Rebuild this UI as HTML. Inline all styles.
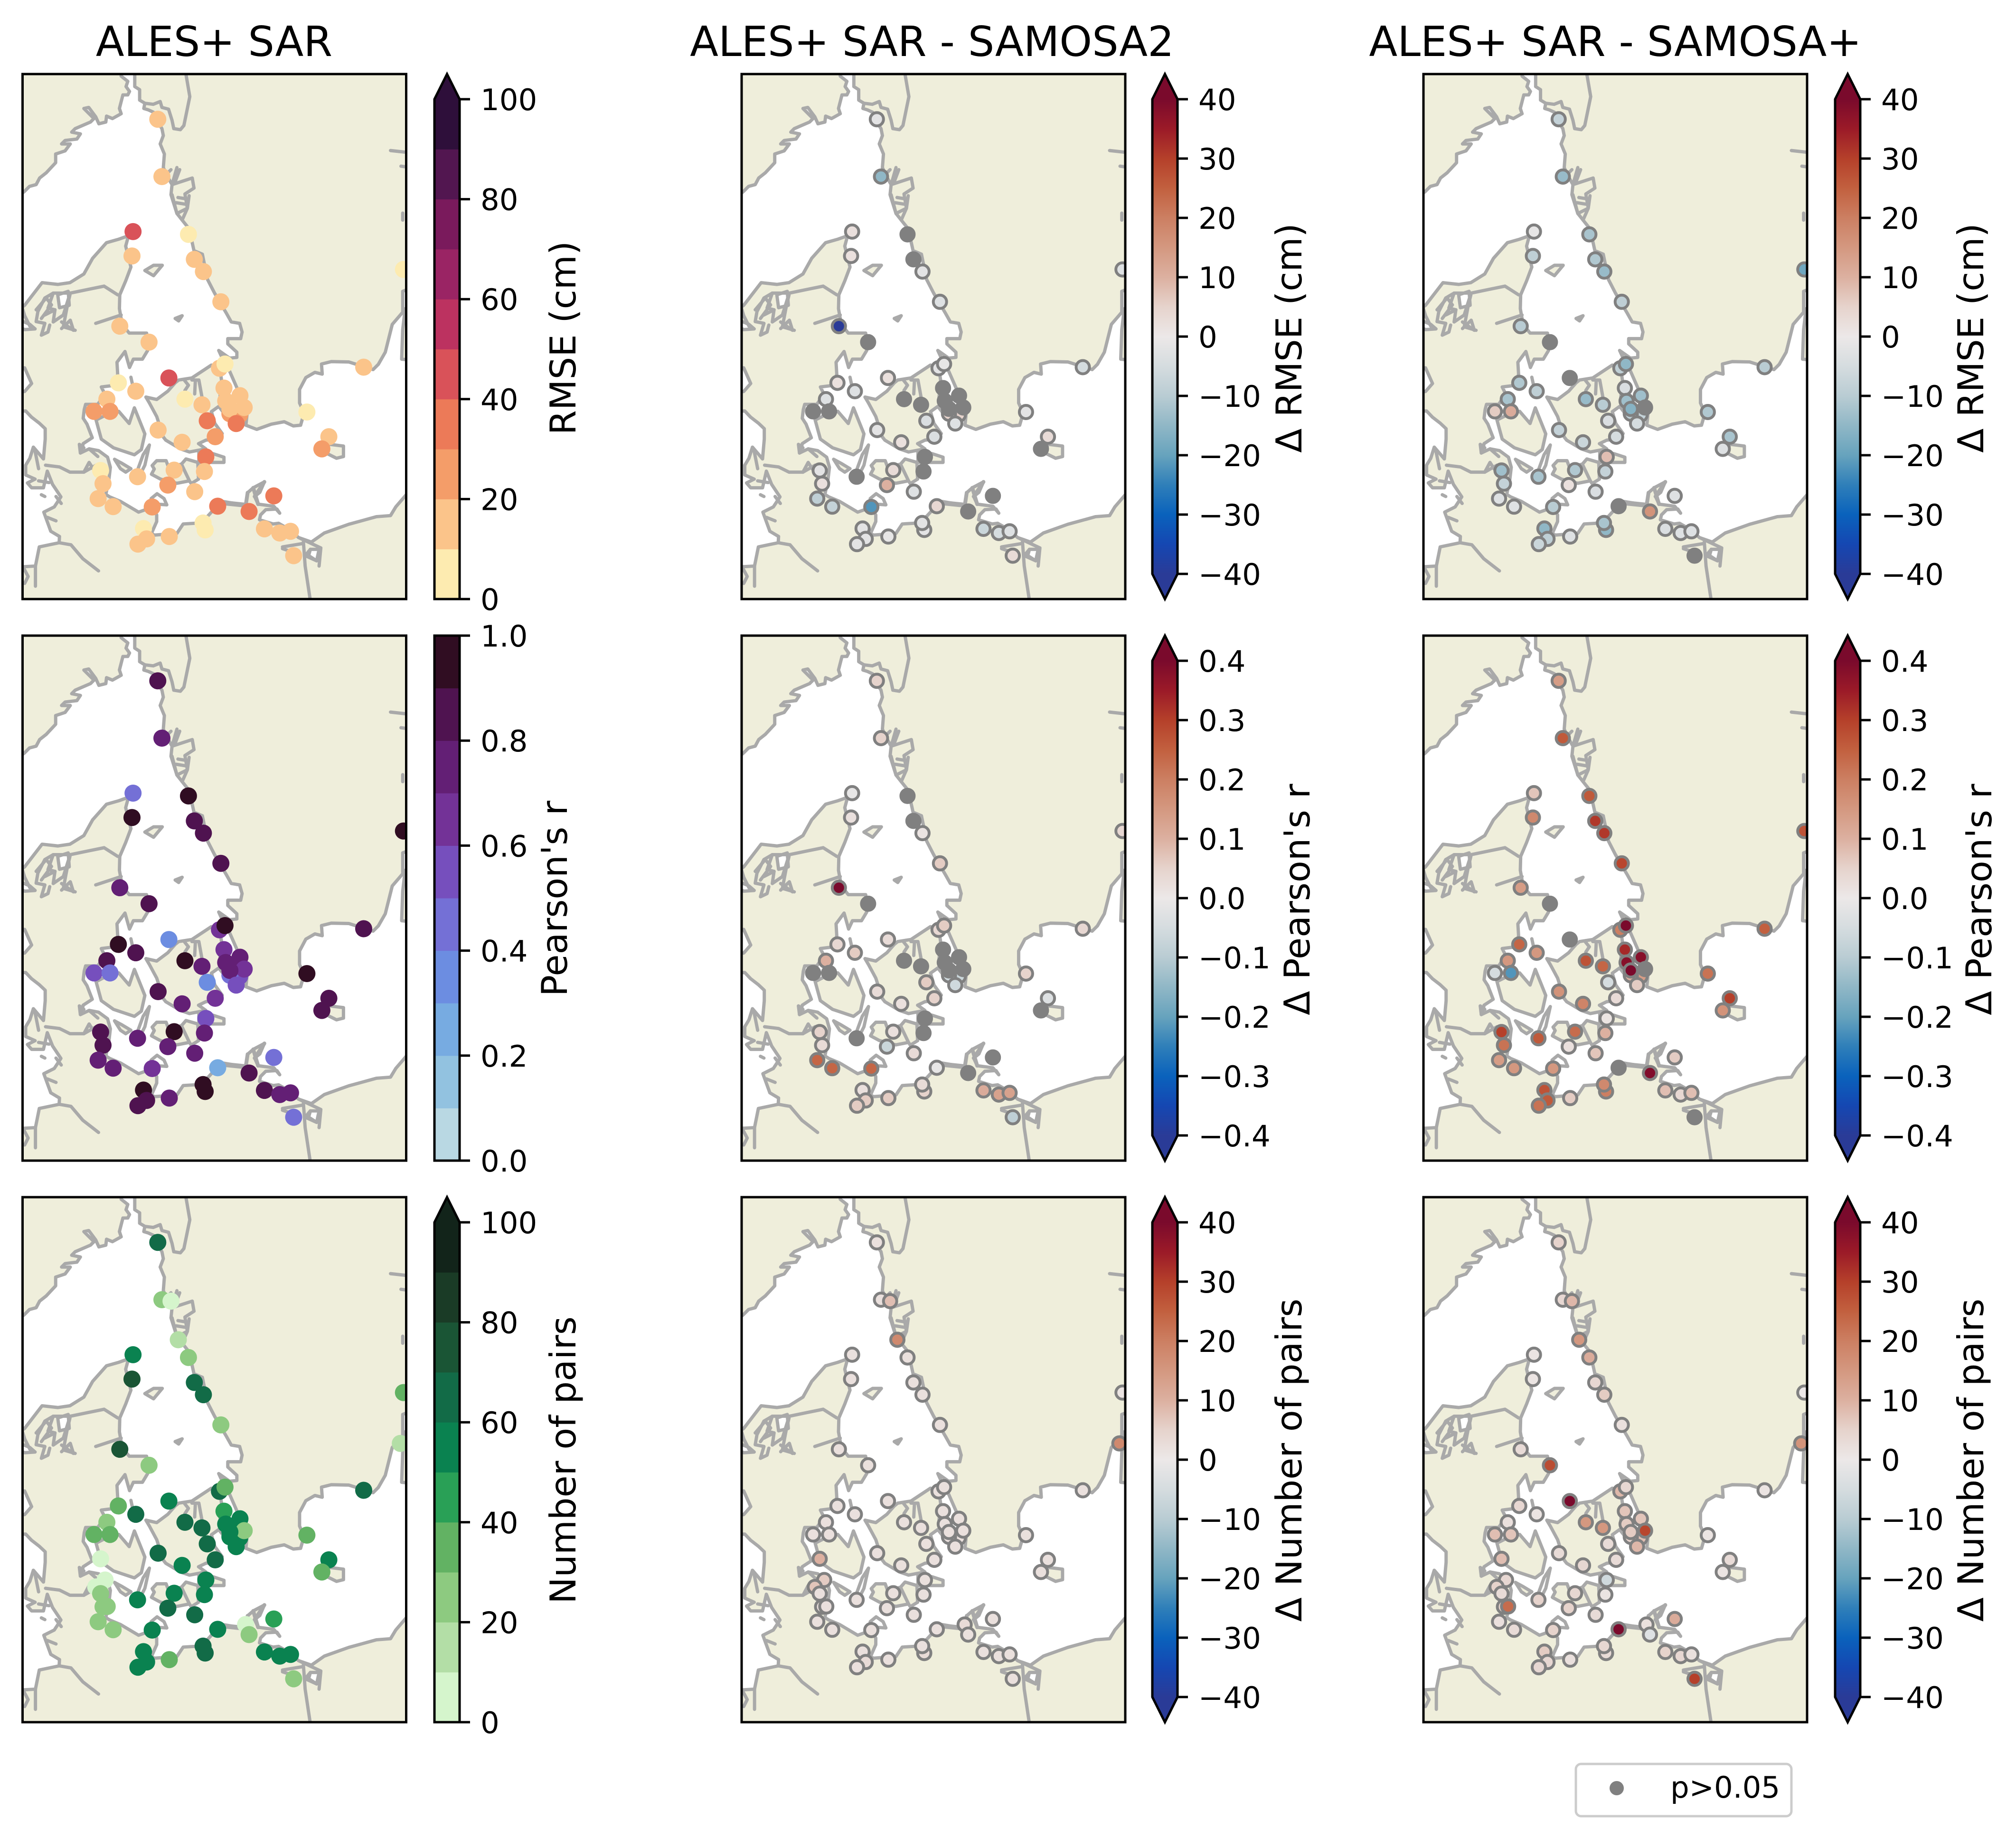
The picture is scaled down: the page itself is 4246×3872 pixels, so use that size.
<!DOCTYPE html>
<html lang="en">
<head>
<meta charset="utf-8">
<title>ALES+ SAR coastal altimetry comparison maps</title>
<style>
html,body{margin:0;padding:0;background:#fff;}
svg{display:block;font-family:"DejaVu Sans","Liberation Sans",sans-serif;}
.title{font-size:87.5px;text-anchor:middle;fill:#000;}
.cb-label{font-size:75px;text-anchor:middle;fill:#000;}
.tick-label{font-size:62.5px;fill:#000;}
</style>
</head>
<body>
<svg id="figure" xmlns="http://www.w3.org/2000/svg" width="4246" height="3872" viewBox="0 0 4246 3872">
<defs>
<clipPath id="panel-clip"><rect x="0" y="0" width="808" height="1106"/></clipPath>
<g id="basemap" transform="scale(0.73388,0.73245) translate(-24,-25)">
<rect x="0" y="0" width="1200" height="1600" fill="#efeedb"/>
<g fill="#ffffff" stroke="#a9a9a9" stroke-width="9.5" stroke-linejoin="round" stroke-linecap="round">
<path d="M307,10 L346,10 346,61 360,70 360,100 375,109 372,124 385,128 400,135 410,160 424,182 428,202 419,226 431,255 428,294 440,320 453,343 450,372 467,426 482,445 502,470 516,533 540,543 555,616 575,655 609,713 623,738 647,742 654,767 650,786 613,786 613,801 639,825 639,840 618,842 587,820 605,859 618,879 639,927 670,986 665,1035 696,1047 738,1032 775,1025 801,1037 822,1035 832,1000 819,971 819,932 837,898 863,883 884,888 882,859 910,852 960,853 1030,875 1045,860 1065,825 1085,745 1115,710 1115,650 1140,640 1140,1225 1125,1235 1095,1270 1080,1295 1040,1298 960,1320 890,1345 853,1371 816,1358 790,1335 759,1317 743,1319 704,1307 707,1293 722,1278 754,1276 762,1288 745,1268 700,1262 690,1240 705,1228 718,1198 686,1215 670,1229 665,1265 645,1262 597,1254 575,1275 555,1297 519,1317 485,1319 467,1346 402,1351 394,1346 409,1312 409,1293 396,1271 357,1285 305,1254 274,1241 263,1234 272,1190 276,1156 268,1127 242,1108 215,1103 190,1115 195,1103 198,1088 224,1071 209,1032 198,1015 201,990 205,975 240,975 260,945 250,925 290,920 297,888 295,854 318,823 331,869 342,845 368,845 383,820 380,770 330,770 310,745 302,700 303,660 320,620 335,580 320,520 328,490 300,500 265,510 225,555 200,600 160,625 125,630 80,625 30,690 10,705 10,378 29,363 44,348 63,343 73,324 92,309 119,280 119,255 146,246 161,226 136,226 146,216 180,212 190,197 165,192 175,182 219,163 229,153 200,124 214,121 234,148 243,168 263,163 265,146 282,153 307,139 302,124 312,85 326,85 331,75 321,61 326,46 307,31 Z"/>
<path d="M10,995 33,994 50,1012 72,1029 89,1045 89,1075 84,1132 55,1098 45,1130 33,1150 33,1178 60,1190 38,1201 50,1215 84,1215 95,1167 110,1205 134,1241 115,1270 85,1285 105,1340 130,1355 129,1373 72,1385 61,1440 27,1442 10,1450 Z"/>
<path d="M10,870 30,870 50,915 30,938 10,938 Z"/>
<path d="M125,660 155,650 158,690 130,697 Z"/>
<path d="M10,730 45,745 60,758 30,760 10,750 Z"/>
<path d="M850,1392 875,1392 868,1425 845,1410 Z"/>
</g>
<g fill="#efeedb" stroke="#a9a9a9" stroke-width="9.5" stroke-linejoin="round" stroke-linecap="round">
<path d="M472,905 510,899 566,862 590,870 595,905 590,960 600,990 610,1010 587,981 566,996 576,1030 597,1059 577,1075 550,1078 529,1088 550,1103 503,1112 477,1103 435,1078 428,1069 409,1010 388,971 378,954 409,961 441,937 462,913 Z"/>
<path d="M235,1020 250,1075 285,1100 345,1120 365,1105 375,1060 345,985 330,1030 300,995 265,1005 Z"/>
<path d="M396,1151 409,1137 436,1137 443,1156 480,1147 503,1195 467,1202 420,1190 394,1176 402,1161 Z"/>
<path d="M480,1147 493,1132 527,1142 529,1190 508,1203 503,1195 Z"/>
<path d="M530,1108 571,1117 602,1127 602,1142 566,1142 530,1142 Z"/>
<path d="M375,590 400,575 425,575 400,605 Z"/>
<path d="M905,1090 945,1095 945,1125 925,1130 885,1110 Z"/>
<path d="M1115,760 1112,845 1140,848 1140,700 1122,700 Z"/>
<path d="M288,1133 310,1145 335,1160 320,1170 305,1160 Z"/>
</g>
<g fill="none" stroke="#a9a9a9" stroke-width="9.5" stroke-linejoin="round" stroke-linecap="round">
<path d="M375,109 399,112 419,104 424,121 443,126 453,158 458,182 477,185 487,173 497,124 504,90 492,20"/>
<path d="M453,343 467,294 M460,340 475,300 M440,310 450,300 M453,343 511,324 516,353 490,370 497,411 482,445 M453,372 467,426 497,411 502,375 M470,380 500,385 M465,395 495,400"/>
<path d="M1080,245 1125,250 M1110,290 1125,292 M1115,425 1115,445"/>
<path d="M161,655 209,645 258,635 297,660 M161,655 112,655 88,669 68,708 63,737 88,742 78,776 97,767 102,747 M151,699 141,752 175,762 M117,703 88,718 M234,742 307,718 M160,660 151,699 M24,700 30,720 45,750"/>
<path d="M112,655 97,698 117,703 112,738 141,718 156,670 M63,703 92,669 107,689 78,728 M136,738 170,762 161,733 136,757"/>
<path d="M462,728 482,720 472,735 Z" fill="#a9a9a9"/>
<path d="M335,897 340,920 M388,1092 375,1150 365,1170 350,1175 370,1120 388,1092"/>
<path d="M488,905 500,920 490,935 M510,905 530,905 540,960 M520,905 518,945"/>
<path d="M393,1246 410,1232 430,1246 438,1264 410,1262"/>
<path d="M90,1150 130,1155 160,1170 200,1170 215,1142 227,1161"/>
<path d="M129,1373 163,1379 197,1419 242,1454"/>
<path d="M61,1440 61,1498 M24,1440 40,1470 30,1490 M70,1195 100,1200 M78,1235 88,1240 M120,1240 135,1260 M95,1300 120,1310 M60,1110 70,1160"/>
<path d="M830,1370 835,1440 850,1540 M770,1385 830,1375 M770,1390 800,1400 M816,1358 880,1388 875,1440 M850,1392 835,1410 868,1425"/>
<path d="M190,1115 187,1090 200,1100 M215,1103 240,1125 M235,1150 200,1170"/>
<path d="M597,1258 665,1265" stroke-width="14"/>
<path d="M670,1229 665,1262 M686,1215 700,1262 M690,1240 718,1198" stroke-width="11"/>
</g>
</g>
</defs>
<rect x="0" y="0" width="4246" height="3872" fill="#ffffff"/>

<text class="title" x="451" y="118">ALES+ SAR</text>
<text class="title" x="1963" y="118">ALES+ SAR - SAMOSA2</text>
<text class="title" x="3402" y="118">ALES+ SAR - SAMOSA+</text>

<text class="cb-label" transform="translate(1212,712) rotate(-90)">RMSE (cm)</text>
<text class="cb-label" transform="translate(1194,1893) rotate(-90)">Pearson's r</text>
<text class="cb-label" transform="translate(1212,3076) rotate(-90)">Number of pairs</text>
<text class="cb-label" transform="translate(2741,712) rotate(-90)">Δ RMSE (cm)</text>
<text class="cb-label" transform="translate(2758,1895) rotate(-90)">Δ Pearson's r</text>
<text class="cb-label" transform="translate(2741,3076) rotate(-90)">Δ Number of pairs</text>
<text class="cb-label" transform="translate(4177,712) rotate(-90)">Δ RMSE (cm)</text>
<text class="cb-label" transform="translate(4194,1895) rotate(-90)">Δ Pearson's r</text>
<text class="cb-label" transform="translate(4177,3076) rotate(-90)">Δ Number of pairs</text>

<g>
<rect x="3319" y="3716" width="454" height="110" rx="11" ry="11" fill="#ffffff" stroke="#cccccc" stroke-width="5"/>
<circle cx="3405" cy="3767" r="15" fill="#808080"/>
<text class="tick-label" x="3518" y="3787">p&gt;0.05</text>
</g>
<g id="panels"></g>
</svg>
<script>
const N = null;
const ns = 'ns';

const stationLon = [
11.162,11.253,11.452,11.612,10.62,10.597,11.834,11.963,12.162,12.544,
16.544,16.475,10.33,10.971,12.513,12.635,11.406,15.673,10.299,10.681,
12.612,12.963,10.047,12.65,11.757,12.131,13.055,9.765,10.116,12.742,
12.956,12.742,12.879,12.246,14.429,11.169,12.421,14.91,14.757,9.91,
11.696,10.009,12.215,9.803,9.91,12.185,11.521,10.719,11.383,9.963,
10.055,11.971,9.856,10.185,11.04,12.475,13.085,13.162,13.704,12.154,
12.2,10.849,10.918,10.727,11.414,13.498,13.834,14.07,14.139];
const stationLat = [
59.047,58.345,58.328,57.855,57.672,57.374,57.638,57.332,57.183,56.813,
57.209,56.587,56.515,56.319,56.0,56.051,55.881,56.013,55.821,55.719,
55.757,55.664,55.621,55.6,55.621,55.553,55.519,55.472,55.472,55.502,
55.43,55.443,55.323,55.357,55.464,55.243,55.162,55.162,55.013,55.174,
55.094,54.915,54.915,54.83,54.749,54.736,54.753,54.672,54.57,54.587,
54.591,54.489,54.404,54.306,54.302,54.311,54.37,54.247,54.438,54.106,
54.021,54.038,53.911,53.847,53.94,54.034,53.983,54.004,53.706];

const rmseValues = [
15,15,N,N,45,15,5,15,15,15,
5,N,15,15,15,5,45,15,5,15,
15,15,15,15,5,15,15,25,25,15,
25,25,35,35,5,15,25,15,25,N,
15,N,35,N,5,15,15,15,25,15,
N,15,15,15,25,35,N,35,35,5,
5,5,15,15,15,15,15,15,15];
const pearsonValues = [
.85,.75,N,N,.45,.95,.95,.85,.85,.85,
.95,N,.75,.85,.65,.95,.35,.85,.95,.85,
.65,.75,.85,.75,.95,.75,.65,.55,.45,.75,
.55,.45,.55,.35,.95,.85,.65,.85,.85,N,
.75,N,.55,N,.85,.75,.95,.75,.75,.85,
N,.75,.75,.75,.65,.25,N,.85,.45,.95,
.95,.95,.85,.85,.75,.85,.75,.75,.45];
const pairsValues = [
65,25,5,15,55,75,25,65,65,25,
35,15,75,25,65,35,55,65,35,65,
45,55,25,55,65,65,25,35,35,55,
55,55,55,65,35,65,65,55,35,5,
55,5,55,5,25,55,55,55,65,25,
25,65,25,25,55,55,5,25,45,65,
65,55,55,55,35,55,55,55,25];

const deltaRmseSamosa2 = [
-2,-15,N,N,2,2,ns,ns,-2,-3,
-3,N,-40,ns,-2,-1,2,-5,2,-3,
ns,ns,-3,ns,ns,ns,ns,ns,ns,ns,
5,5,-3,-4,-2,-2,-4,3,ns,N,
2,N,ns,N,-2,ns,3,ns,10,2,
N,-3,-9,-8,-22,4,N,ns,ns,-2,
-2,-2,-2,-2,-1,-7,-5,-3,3];
const deltaRmseSamosaPlus = [
-8,-14,N,N,-1,-9,-12,-11,-14,-9,
-19,N,-10,ns,-9,-15,ns,-10,-11,-9,
-4,-13,-12,-13,-14,-10,ns,6,11,-16,
-8,-9,-5,-4,-11,-8,-5,-12,-3,N,
-7,N,8,N,-13,-8,-11,-12,2,-8,
N,-4,-3,-3,-10,ns,N,16,-3,-12,
-15,-15,-9,-7,-3,-4,-3,-3,ns];
const deltaPearsonSamosa2 = [
.05,.05,N,N,-.01,.02,ns,ns,.01,.06,
.04,N,.4,ns,.04,.06,.03,.04,.04,.06,
ns,ns,.1,ns,ns,ns,ns,ns,ns,ns,
-.07,-.06,-.06,.06,.05,.03,.05,-.03,ns,N,
.02,N,ns,N,.05,ns,.02,ns,-.07,.03,
N,.03,.24,.24,.24,-.01,N,ns,ns,.03,
.05,.02,.06,.06,.06,.11,.13,.13,-.09];
const deltaPearsonSamosaPlus = [
.14,.26,N,N,.07,.18,.26,.31,.31,.29,
.27,N,.14,ns,.2,.4,ns,.25,.24,.15,
.33,.38,.15,.38,.27,.24,ns,-.05,-.22,.4,
.14,.1,.06,-.05,.22,.16,.03,.3,.16,N,
.19,N,.01,N,.3,.1,.23,.26,.02,.22,
N,.07,.14,.15,.15,ns,N,.39,.06,.18,
.2,.27,.26,.22,.06,.08,.04,.08,ns];
const deltaPairsSamosa2 = [
2,2,8,18,2,2,2,2,2,2,
1,18,2,2,2,2,2,2,2,2,
2,2,2,2,2,2,2,2,2,2,
2,2,2,2,2,2,2,2,2,10,
2,6,2,7,2,2,2,2,2,2,
2,2,2,2,2,2,3,2,2,2,
3,2,3,2,2,2,2,2,2];
const deltaPairsSamosaPlus = [
5,4,9,15,1,1,11,4,6,2,
0,16,3,28,9,4,40,1,4,1,
7,7,2,6,15,15,29,8,7,6,
8,5,9,3,1,3,3,3,1,8,
4,4,-6,5,3,1,4,5,5,5,
23,3,2,3,5,40,2,-3,11,4,
3,6,4,4,2,5,4,2,30];

const ticksHundred = [0,20,40,60,80,100];
const ticksUnit = [0,0.2,0.4,0.6,0.8,1.0];
const ticksDelta = [-40,-30,-20,-10,0,10,20,30,40];
const ticksDeltaR = [-0.4,-0.3,-0.2,-0.1,0,0.1,0.2,0.3,0.4];

const matterBands = ['#fdebb0','#fbc48a','#f49d69','#ec7a58','#d95259','#bc3260','#9a2464','#7a1a5c','#521650','#2e0f3a'];
const denseBands = ['#b9d8e3','#92c2e0','#77abe1','#6c8de1','#7470d6','#764fbd','#733297','#631f75','#4f1350','#300d22'];
const algaeBands = ['#d5f5cc','#b3dea6','#8dca80','#62b263','#29a056','#0a8250','#126b47','#1a5535','#1a3b26','#12241a'];
const balanceStops = ['#2a3b97','#1547b2','#0a62bc','#2f7fb9','#67a3bd','#90b7c6','#b9ccd3','#d5dcdf','#ece8e8','#e6d3cc','#dcb0a0','#d49880','#cc7f62','#c2603f','#b5402a','#9b1a28','#7a0a2c'];

const PANEL_W = 808, PANEL_H = 1106, CBAR_W = 53, EXT = 53;
const LON_MIN = 8.2, LON_MAX = 16.604, LAT_MAX = 59.6, LAT_MIN = 53.175;
const colLeft = [47.5, 1562, 2998];
const rowTop = [156, 1339, 2522];
const cbarLeft = [915, 2427, 3865];
const NS_COLOR = '#808080', EDGE_COLOR = '#808080';
const SVGNS = 'http://www.w3.org/2000/svg';
const root = document.getElementById('panels');
const defs = document.querySelector('defs');

function xScale(lon) { return (lon - LON_MIN) / (LON_MAX - LON_MIN) * PANEL_W; }
function yScale(lat) { return (LAT_MAX - lat) / (LAT_MAX - LAT_MIN) * PANEL_H; }
function hexRgb(h) { return [parseInt(h.substr(1,2),16), parseInt(h.substr(3,2),16), parseInt(h.substr(5,2),16)]; }
function balanceColor(t) {
  const p = Math.max(0, Math.min(1, t)) * (balanceStops.length - 1);
  const i = Math.min(Math.floor(p), balanceStops.length - 2);
  const a = hexRgb(balanceStops[i]), b = hexRgb(balanceStops[i + 1]), f = p - i;
  return 'rgb(' + a.map((c, k) => Math.round(c + (b[k] - c) * f)).join(',') + ')';
}
function bandColor(bands, v, vmax) {
  const i = Math.max(0, Math.min(bands.length - 1, Math.floor(v / vmax * bands.length)));
  return bands[i];
}
function mk(tag, attrs, parent) {
  const el = document.createElementNS(SVGNS, tag);
  for (const k in attrs) el.setAttribute(k, attrs[k]);
  if (parent) parent.appendChild(el);
  return el;
}
function fmt(v, digits) { return v.toFixed(digits).replace('-', '\u2212'); }

const gradient = mk('linearGradient', {id:'balance-gradient', x1:'0', y1:'1', x2:'0', y2:'0'}, defs);
balanceStops.forEach((c, i) => {
  mk('stop', {offset: i / (balanceStops.length - 1), 'stop-color': c}, gradient);
});

const drawFirst = [30, 31, 60];
const drawOrder = drawFirst.concat(stationLon.map((_, i) => i).filter(i => drawFirst.indexOf(i) < 0));

function drawMap(name, col, row, values, colorFn, edged) {
  const g = mk('g', {transform: 'translate(' + colLeft[col] + ',' + rowTop[row] + ')'}, root);
  
  
  const clip = mk('g', {'clip-path': 'url(#panel-clip)'}, g);
  const base = mk('use', {href: '#basemap'}, clip);
  
  
  drawOrder.forEach(i => {
    const v = values[i];
    if (v === null || v === undefined) return;
    const isNs = v === 'ns';
    const attrs = {cx: xScale(stationLon[i]).toFixed(1), cy: yScale(stationLat[i]).toFixed(1)};
    if (edged) {
      attrs.r = 14; attrs.fill = isNs ? NS_COLOR : colorFn(v);
      attrs.stroke = EDGE_COLOR; attrs['stroke-width'] = 6;
    } else {
      attrs.r = 18; attrs.fill = colorFn(v);
    }
    const dot = mk('circle', attrs, clip);
    
    
  });
  const frame = mk('rect', {x:0, y:0, width:PANEL_W, height:PANEL_H, fill:'none', stroke:'#000', 'stroke-width':5}, g);
  
  
}

function drawTicks(g, ticks, digits, posFn) {
  ticks.forEach(t => {
    const y = posFn(t);
    const tick = mk('line', {x1:CBAR_W, x2:CBAR_W + 22, y1:y, y2:y, stroke:'#000', 'stroke-width':5}, g);
    
    
    const label = mk('text', {class:'tick-label', x:CBAR_W + 44, y:y + 23}, g);
    
    
    label.textContent = fmt(t, digits);
  });
}

function drawBandBar(name, row, bands, vmax, ticks, digits, extendTop) {
  const top = rowTop[row];
  const g = mk('g', {transform: 'translate(' + cbarLeft[0] + ',' + top + ')'}, root);
  
  
  const y0 = PANEL_H, y1 = extendTop ? EXT : 0;
  const pos = v => y0 + (y1 - y0) * v / vmax;
  bands.forEach((c, i) => {
    const a = pos(vmax * (i + 1) / bands.length), b = pos(vmax * i / bands.length);
    const band = mk('rect', {x:0, y:a, width:CBAR_W, height:b - a + 0.5, fill:c}, g);
    
    
  });
  let outline;
  if (extendTop) {
    const tip = mk('polygon', {points:'0,' + EXT + ' ' + (CBAR_W / 2) + ',0 ' + CBAR_W + ',' + EXT, fill:bands[bands.length - 1]}, g);
    
    
    outline = '0,' + PANEL_H + ' 0,' + EXT + ' ' + (CBAR_W / 2) + ',0 ' + CBAR_W + ',' + EXT + ' ' + CBAR_W + ',' + PANEL_H;
  } else {
    outline = '0,' + PANEL_H + ' 0,0 ' + CBAR_W + ',0 ' + CBAR_W + ',' + PANEL_H;
  }
  const o = mk('polygon', {points:outline, fill:'none', stroke:'#000', 'stroke-width':5}, g);
  
  
  drawTicks(g, ticks, digits, pos);
}

function drawBalanceBar(name, col, row, vmax, ticks, digits) {
  const g = mk('g', {transform: 'translate(' + cbarLeft[col] + ',' + rowTop[row] + ')'}, root);
  
  
  const y0 = PANEL_H - EXT, y1 = EXT;
  const pos = v => y0 + (y1 - y0) * (v + vmax) / (2 * vmax);
  const grad = mk('rect', {x:0, y:EXT, width:CBAR_W, height:PANEL_H - 2 * EXT, fill:'url(#balance-gradient)'}, g);
  
  
  const topTip = mk('polygon', {points:'0,' + EXT + ' ' + (CBAR_W / 2) + ',0 ' + CBAR_W + ',' + EXT, fill:balanceStops[balanceStops.length - 1]}, g);
  
  
  const botTip = mk('polygon', {points:'0,' + (PANEL_H - EXT) + ' ' + (CBAR_W / 2) + ',' + PANEL_H + ' ' + CBAR_W + ',' + (PANEL_H - EXT), fill:balanceStops[0]}, g);
  
  
  const pts = '0,' + EXT + ' ' + (CBAR_W / 2) + ',0 ' + CBAR_W + ',' + EXT + ' ' + CBAR_W + ',' + (PANEL_H - EXT) + ' ' + (CBAR_W / 2) + ',' + PANEL_H + ' 0,' + (PANEL_H - EXT);
  const o = mk('polygon', {points:pts, fill:'none', stroke:'#000', 'stroke-width':5}, g);
  
  
  drawTicks(g, ticks, digits, pos);
}

drawMap('rmse', 0, 0, rmseValues, v => bandColor(matterBands, v, 100), false);
drawBandBar('rmse', 0, matterBands, 100, ticksHundred, 0, true);
drawMap('pearson', 0, 1, pearsonValues, v => bandColor(denseBands, v, 1), false);
drawBandBar('pearson', 1, denseBands, 1, ticksUnit, 1, false);
drawMap('pairs', 0, 2, pairsValues, v => bandColor(algaeBands, v, 100), false);
drawBandBar('pairs', 2, algaeBands, 100, ticksHundred, 0, true);

const balance40 = v => balanceColor((v + 40) / 80);
const balance04 = v => balanceColor((v + 0.4) / 0.8);

drawMap('delta-rmse-samosa2', 1, 0, deltaRmseSamosa2, balance40, true);
drawBalanceBar('delta-rmse-samosa2', 1, 0, 40, ticksDelta, 0);
drawMap('delta-rmse-samosa-plus', 2, 0, deltaRmseSamosaPlus, balance40, true);
drawBalanceBar('delta-rmse-samosa-plus', 2, 0, 40, ticksDelta, 0);
drawMap('delta-pearson-samosa2', 1, 1, deltaPearsonSamosa2, balance04, true);
drawBalanceBar('delta-pearson-samosa2', 1, 1, 0.4, ticksDeltaR, 1);
drawMap('delta-pearson-samosa-plus', 2, 1, deltaPearsonSamosaPlus, balance04, true);
drawBalanceBar('delta-pearson-samosa-plus', 2, 1, 0.4, ticksDeltaR, 1);
drawMap('delta-pairs-samosa2', 1, 2, deltaPairsSamosa2, balance40, true);
drawBalanceBar('delta-pairs-samosa2', 1, 2, 40, ticksDelta, 0);
drawMap('delta-pairs-samosa-plus', 2, 2, deltaPairsSamosaPlus, balance40, true);
drawBalanceBar('delta-pairs-samosa-plus', 2, 2, 40, ticksDelta, 0);
</script>
</body>
</html>
